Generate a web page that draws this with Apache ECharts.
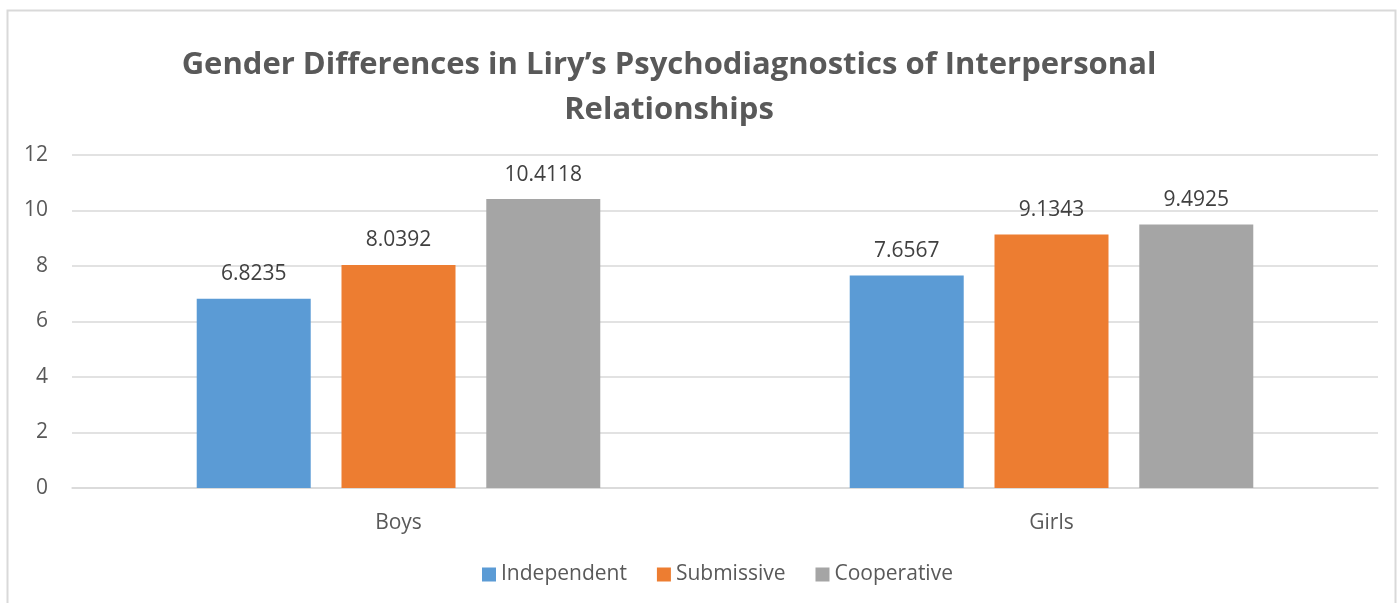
<!DOCTYPE html>
<html><head><meta charset="utf-8">
<script src="https://cdn.jsdelivr.net/npm/echarts@6/dist/echarts.min.js"></script>
<style>html,body{margin:0;padding:0;background:#fff}#c{width:1397px;height:603px}</style>
</head><body><div id="c"></div>
<script>
const categories = ['Boys', 'Girls'];
const independent = [6.8235, 7.6567];
const submissive = [8.0392, 9.1343];
const cooperative = [10.4118, 9.4925];
const yTicks = [0, 2, 4, 6, 8, 10, 12];

const font = '"Open Sans", "Liberation Sans", sans-serif';
const chart = echarts.init(document.getElementById('c'));
const mk = (name, data, color) => ({
  name, type: 'bar', data, barWidth: 114, barGap: '27%',
  itemStyle: { color },
  label: { show: true, position: 'top', distance: 14, color: '#404040', fontSize: 21, fontFamily: font,
    formatter: p => String(p.value) }
});
chart.setOption({
  animation: false,
  backgroundColor: '#fff',
  graphic: [{ type: 'rect', shape: { x: 7.5, y: 10.5, width: 1388, height: 600 },
    style: { fill: 'none', stroke: '#d9d9d9', lineWidth: 2 } }],
  title: {
    text: 'Gender Differences in Liry\u2019s Psychodiagnostics of Interpersonal\nRelationships',
    left: 664, top: 38, textAlign: 'center',
    textStyle: { fontFamily: font, fontWeight: 'bold', fontSize: 31, color: '#595959', lineHeight: 45 }
  },
  legend: {
    data: ['Independent', 'Submissive', 'Cooperative'], top: 559, left: 477,
    icon: 'rect', itemWidth: 14, itemHeight: 14, itemGap: 30,
    textStyle: { fontFamily: font, fontSize: 21, color: '#595959' }
  },
  grid: { left: 72, right: 19, top: 155, bottom: 115 },
  xAxis: {
    type: 'category', data: categories,
    axisLine: { lineStyle: { color: '#d9d9d9', width: 1.5 } }, axisTick: { show: false },
    axisLabel: { fontFamily: font, fontSize: 21, color: '#595959', margin: 25 }
  },
  yAxis: {
    type: 'value', min: yTicks[0], max: yTicks[yTicks.length - 1], interval: 2,
    axisLine: { show: false }, axisTick: { show: false },
    splitLine: { lineStyle: { color: '#d9d9d9', width: 1.5 } },
    axisLabel: { fontFamily: font, fontSize: 21, color: '#595959', margin: 24 }
  },
  series: [
    mk('Independent', independent, '#5b9bd5'),
    mk('Submissive', submissive, '#ed7d31'),
    mk('Cooperative', cooperative, '#a5a5a5')
  ]
});
</script></body></html>
